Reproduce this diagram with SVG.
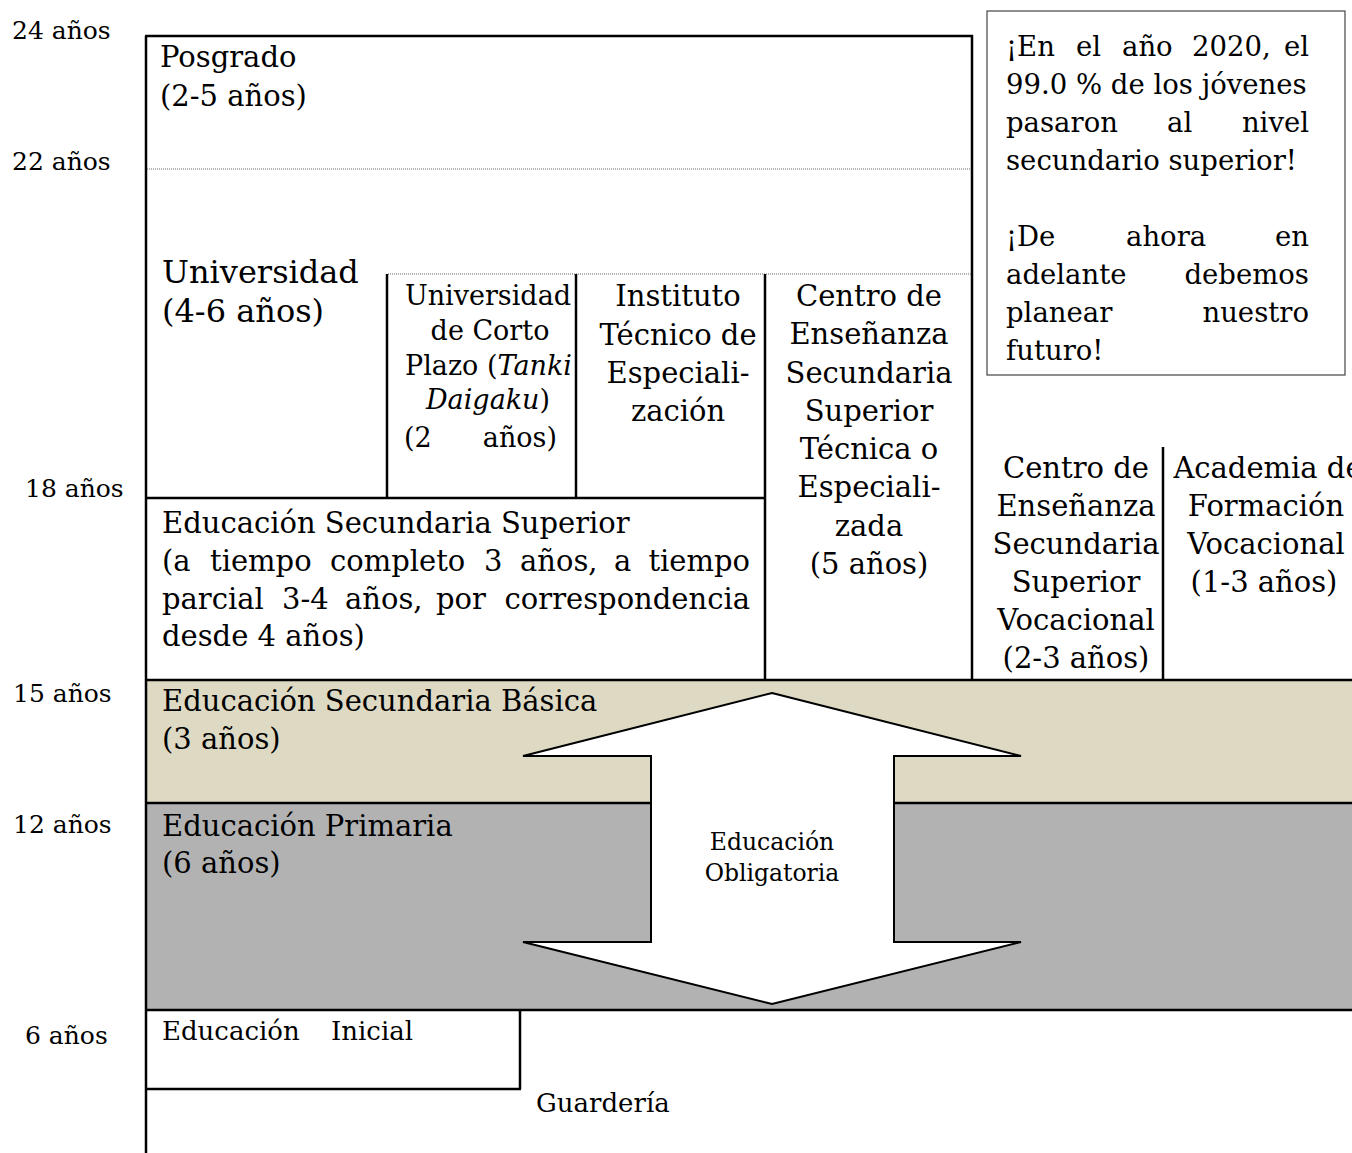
<svg xmlns="http://www.w3.org/2000/svg" width="1352" height="1153" viewBox="0 0 1352 1153">
<defs>
<style>
text{font-family:"DejaVu Serif","Liberation Serif",serif;fill:#000}
.age{font-size:25px}
.big{font-size:29px}
.col{font-size:29px;text-anchor:middle}
.colS{font-size:27px;text-anchor:middle}
.note{font-size:27.5px}
.end{text-anchor:end}
.small{font-size:23.5px;text-anchor:middle}
.thick{stroke:#000;stroke-width:2.5;fill:none}
.dot{stroke:#666;stroke-width:1;stroke-dasharray:1 1;fill:none}
</style>
<clipPath id="clipTanki"><rect x="388" y="275" width="186" height="222"/></clipPath>
</defs>
<rect width="1352" height="1153" fill="#fff"/>

<g id="bands">
<rect x="146" y="680" width="1206" height="123" fill="#DDD9C3"/>
<rect x="146" y="803" width="1206" height="207" fill="#B2B2B2"/>
</g>

<g id="connectors">
<line class="thick" x1="146" y1="36" x2="146" y2="1153"/>
<line class="thick" x1="145" y1="36" x2="973" y2="36"/>
<line class="thick" x1="972" y1="35" x2="972" y2="680"/>
<line class="dot" x1="147" y1="169" x2="971" y2="169"/>
<line class="dot" x1="388" y1="274" x2="971" y2="274"/>
<line class="thick" x1="387" y1="274" x2="387" y2="498"/>
<line class="thick" x1="576" y1="274" x2="576" y2="498"/>
<line class="thick" x1="765" y1="274" x2="765" y2="680"/>
<line class="thick" x1="146" y1="498" x2="766" y2="498"/>
<line class="thick" x1="1163" y1="447" x2="1163" y2="680"/>
<line class="thick" x1="146" y1="680" x2="1352" y2="680"/>
<line class="thick" x1="146" y1="803" x2="1352" y2="803"/>
<line class="thick" x1="146" y1="1010" x2="1352" y2="1010"/>
<line class="thick" x1="520" y1="1010" x2="520" y2="1089"/>
<line class="thick" x1="146" y1="1089" x2="521" y2="1089"/>
</g>

<g id="ages">
<text class="age" x="12" y="39">24 años</text>
<text class="age" x="12" y="170">22 años</text>
<text class="age" x="25" y="497">18 años</text>
<text class="age" x="13" y="702">15 años</text>
<text class="age" x="13" y="833">12 años</text>
<text class="age" x="25" y="1044">6 años</text>
</g>

<g id="posgrado">
<text class="big" x="160" y="67">Posgrado</text>
<text class="big" x="160" y="106">(2-5 años)</text>
</g>

<g id="universidad">
<text x="162" y="283" style="font-size:32px">Universidad</text>
<text x="162" y="322" style="font-size:32px">(4-6 años)</text>
</g>

<g id="tanki" clip-path="url(#clipTanki)">
<text class="colS" x="488" y="305">Universidad</text>
<text class="colS" x="490" y="340">de Corto</text>
<text class="colS" x="405" y="375" style="text-anchor:start">Plazo (<tspan font-style="italic">Tanki</tspan></text>
<text class="colS" x="488" y="409"><tspan font-style="italic">Daigaku</tspan>)</text>
<text class="colS" x="404" y="447" style="text-anchor:start">(2</text>
<text class="colS end" x="557" y="447">años)</text>
</g>

<g id="instituto">
<text class="col" x="678" y="306">Instituto</text>
<text class="col" x="678" y="345">Técnico de</text>
<text class="col" x="678" y="383">Especiali-</text>
<text class="col" x="678" y="421">zación</text>
</g>

<g id="tecnica">
<text class="col" x="869" y="306">Centro de</text>
<text class="col" x="869" y="344">Enseñanza</text>
<text class="col" x="869" y="383">Secundaria</text>
<text class="col" x="869" y="421">Superior</text>
<text class="col" x="869" y="459">Técnica o</text>
<text class="col" x="869" y="497">Especiali-</text>
<text class="col" x="869" y="536">zada</text>
<text class="col" x="869" y="574">(5 años)</text>
</g>

<g id="vocacional">
<text class="col" x="1076" y="478">Centro de</text>
<text class="col" x="1076" y="516">Enseñanza</text>
<text class="col" x="1076" y="554">Secundaria</text>
<text class="col" x="1076" y="592">Superior</text>
<text class="col" x="1076" y="630">Vocacional</text>
<text class="col" x="1076" y="668">(2-3 años)</text>
</g>

<g id="academia">
<text class="col" x="1268" y="478">Academia de</text>
<text class="col" x="1266" y="516">Formación</text>
<text class="col" x="1266" y="554">Vocacional</text>
<text class="col" x="1264" y="592">(1-3 años)</text>
</g>

<g id="secundaria-superior">
<text class="big" x="162" y="533">Educación Secundaria Superior</text>
<text class="big" y="571"><tspan x="162">(a</tspan><tspan x="210">tiempo</tspan><tspan x="330">completo</tspan><tspan x="484">3</tspan><tspan x="520">años,</tspan><tspan x="614">a</tspan></text>
<text class="big end" x="750" y="571">tiempo</text>
<text class="big" y="609"><tspan x="162">parcial</tspan><tspan x="282">3-4</tspan><tspan x="345">años,</tspan><tspan x="436">por</tspan></text>
<text class="big end" x="750" y="609">correspondencia</text>
<text class="big" x="162" y="646">desde 4 años)</text>
</g>

<g id="nota">
<rect x="987" y="11" width="358" height="364" fill="#fff" stroke="#444" stroke-width="1.2"/>
<text class="note" y="56"><tspan x="1006">¡En</tspan><tspan x="1076">el</tspan><tspan x="1122">año</tspan><tspan x="1192">2020,</tspan></text>
<text class="note end" x="1309" y="56">el</text>
<text class="note" x="1006" y="94">99.0 % de los jóvenes</text>
<text class="note" y="132"><tspan x="1006">pasaron</tspan><tspan x="1167">al</tspan></text>
<text class="note end" x="1309" y="132">nivel</text>
<text class="note" x="1006" y="170">secundario superior!</text>
<text class="note" y="246"><tspan x="1006">¡De</tspan><tspan x="1126">ahora</tspan></text>
<text class="note end" x="1309" y="246">en</text>
<text class="note" x="1006" y="284">adelante</text>
<text class="note end" x="1309" y="284">debemos</text>
<text class="note" x="1006" y="322">planear</text>
<text class="note end" x="1309" y="322">nuestro</text>
<text class="note" x="1006" y="360">futuro!</text>
</g>

<g id="secundaria-basica">
<text class="big" x="162" y="711">Educación Secundaria Básica</text>
<text class="big" x="162" y="749">(3 años)</text>
</g>

<g id="primaria">
<text class="big" x="162" y="836">Educación Primaria</text>
<text class="big" x="162" y="873">(6 años)</text>
</g>

<g id="obligatoria">
<polygon points="772,693 1021,756 894,756 894,942 1021,942 772,1004 523,942 651,942 651,756 523,756" fill="#fff" stroke="#000" stroke-width="2"/>
<text class="small" x="772" y="850">Educación</text>
<text class="small" x="772" y="881">Obligatoria</text>
</g>

<g id="inicial">
<text style="font-size:26px" x="162" y="1040">Educación</text>
<text style="font-size:26px" x="331" y="1040">Inicial</text>
</g>

<g id="guarderia">
<text style="font-size:26px" x="536" y="1112">Guardería</text>
</g>
</svg>
